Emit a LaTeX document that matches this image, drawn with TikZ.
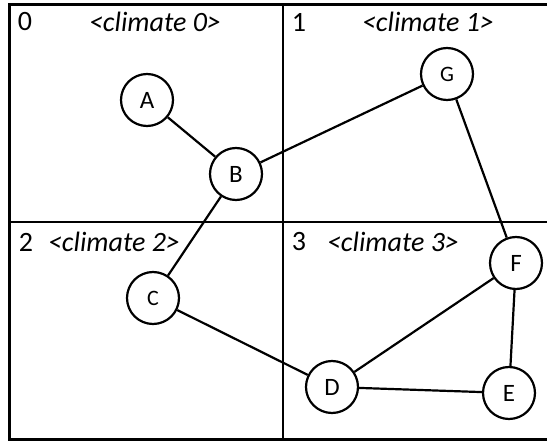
\documentclass[tikz,border=0pt]{standalone}
\usepackage{fontspec}
\setmainfont{Carlito}
\usetikzlibrary{positioning}

\begin{document}
\begin{tikzpicture}[x=1pt,y=-1pt,
    station/.style={draw,circle,line width=2.2pt,minimum size=52pt,inner sep=0pt,
      font=\fontsize{25}{27}\selectfont},
    smallstation/.style={station,font=\fontsize{22}{24}\selectfont},
    link/.style={line width=2.2pt},
    frame/.style={line width=2.5pt},
    zonetext/.style={font=\fontsize{28}{32}\selectfont},
    climatetext/.style={font=\fontsize{28}{32}\selectfont\itshape}]
      \useasboundingbox (0,0) rectangle (547,441);

      % Draw outer frame and the dividers
      \draw[frame] (547,4.5) -- (9.5,4.5) -- (9.5,439.5) -- (547,439.5);
      \draw[frame] (283,4.5) -- (283,439.5);
      \draw[frame] (9.5,222) -- (547,222);

      % Zone numbers
      \foreach \i/\x/\y in {0/25/22, 1/299/22, 2/26/242, 3/299/242} {
        \node[zonetext] (zone\i) at (\x,\y) {\i};
      }

      % Climate labels
      \node[climatetext] (clim0) at (155,22) {<climate 0>};
      \node[climatetext] (clim1) at (428,22) {<climate 1>};
      \node[climatetext] (clim2) at (114,242) {<climate 2>};
      \node[climatetext] (clim3) at (393,242) {<climate 3>};

      % Draw the stations
      \node[station] (A) at (147,100) {A};
      \node[station] (B) at (236,174) {B};
      \node[smallstation] (G) at (447,74) {G};
      \node[smallstation] (C) at (153,298) {C};
      \node[station] (F) at (516,263) {F};
      \node[station] (D) at (332,387) {D};
      \node[station] (E) at (509,393) {E};

      % Draw the links
      \foreach \a/\b in {A/B, B/G, B/C, C/D, G/F, F/D, F/E, D/E} {
        \draw[link] (\a) -- (\b);
      }
    \end{tikzpicture}
\end{document}
